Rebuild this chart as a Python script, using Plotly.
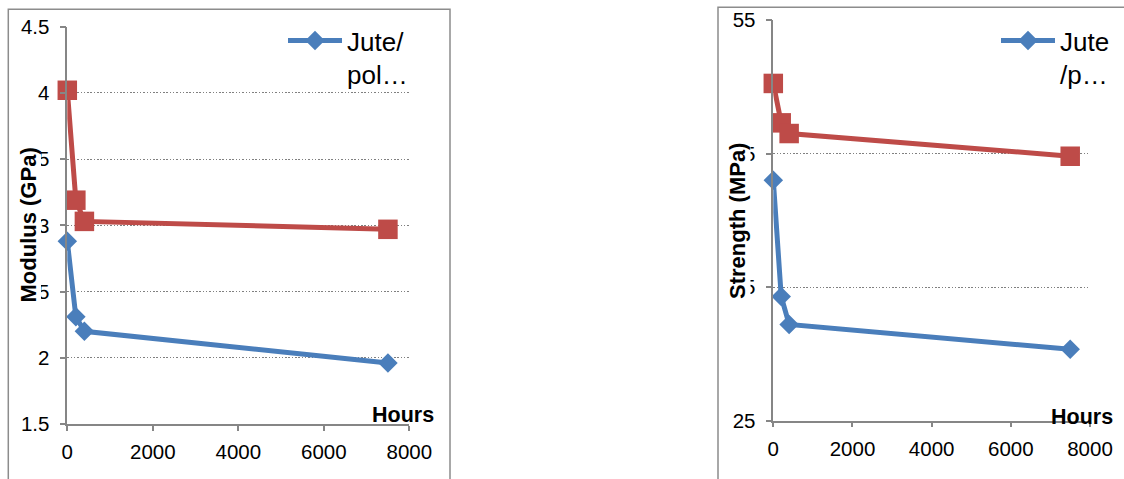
import plotly.graph_objects as go

# ---- data ----
hours = [0, 200, 400, 7500]
modulus_blue = [2.88, 2.31, 2.20, 1.96]
modulus_red = [4.02, 3.19, 3.03, 2.97]
strength_blue = [43.0, 34.3, 32.2, 30.35]
strength_red = [50.25, 47.3, 46.5, 44.8]

x_ticks = [0, 2000, 4000, 6000, 8000]
x_ticktext = ["0", "2000", "4000", "6000", "8000"]
mod_ticks = [1.5, 2, 2.5, 3, 3.5, 4, 4.5]
mod_ticktext = ["1.5", "2", "2.5", "3", "3.5", "4", "4.5"]
str_ticks = [25, 35, 45, 55]
str_ticktext = ["25", "35", "45", "55"]

legend_left = "Jute/<br>pol…"
legend_right = "Jute<br>/p…"

W, H = 1124, 479
BLUE = "#4A7EBB"
RED = "#BE4B48"
AX = "#868686"
FONT = "Liberation Sans, Arial, sans-serif"


def px(x):
    return x / W


def py(y):
    return 1 - y / H


fig = go.Figure()

line_kw = dict(width=5)
fig.add_trace(go.Scatter(x=hours, y=modulus_red, mode="lines+markers", name="red",
                         line=dict(color=RED, **line_kw),
                         marker=dict(symbol="square", size=19.5, color=RED),
                         showlegend=False, cliponaxis=False, xaxis="x", yaxis="y"))
fig.add_trace(go.Scatter(x=hours, y=modulus_blue, mode="lines+markers", name=legend_left,
                         line=dict(color=BLUE, **line_kw),
                         marker=dict(symbol="diamond", size=15, color=BLUE),
                         showlegend=True, legend="legend", cliponaxis=False, xaxis="x", yaxis="y"))
fig.add_trace(go.Scatter(x=hours, y=strength_red, mode="lines+markers", name="red2",
                         line=dict(color=RED, **line_kw),
                         marker=dict(symbol="square", size=19.5, color=RED),
                         showlegend=False, cliponaxis=False, xaxis="x2", yaxis="y2"))
fig.add_trace(go.Scatter(x=hours, y=strength_blue, mode="lines+markers", name=legend_right,
                         line=dict(color=BLUE, **line_kw),
                         marker=dict(symbol="diamond", size=15, color=BLUE),
                         showlegend=True, legend="legend2", cliponaxis=False, xaxis="x2", yaxis="y2"))

xcommon = dict(range=[0, 8000], tickvals=x_ticks, ticktext=x_ticktext, automargin=False,
               showline=True, linecolor=AX, linewidth=1.5, ticks="outside",
               ticklen=5, tickcolor=AX, tickwidth=1.5, showgrid=False, zeroline=False,
               tickfont=dict(family=FONT, size=20.5, color="#000"), ticklabelstandoff=4)
ycommon = dict(showline=True, linecolor=AX, linewidth=1.5, ticks="outside", automargin=False,
               ticklen=6, tickcolor=AX, tickwidth=1.5, showgrid=True,
               gridcolor="#808080", gridwidth=1.3, griddash="1.5px,1.8px", zeroline=False,
               tickfont=dict(family=FONT, size=20.5, color="#000"), ticklabelstandoff=6)

fig.update_layout(
    template="none",
    width=W, height=H, autosize=False,
    margin=dict(l=0, r=0, t=0, b=0, pad=0),
    paper_bgcolor="white", plot_bgcolor="white",
    xaxis=dict(domain=[px(67.3), px(409.3)], anchor="y", **xcommon),
    yaxis=dict(domain=[py(424), py(26.7)], anchor="x", range=[1.5, 4.5],
               tickvals=mod_ticks, ticktext=mod_ticktext, **ycommon),
    xaxis2=dict(domain=[px(773.3), px(1090)], anchor="y2", **xcommon),
    yaxis2=dict(domain=[py(420.7), py(20)], anchor="x2", range=[25, 55],
                tickvals=str_ticks, ticktext=str_ticktext, **ycommon),
    legend=dict(x=px(283), y=py(17), xanchor="left", yanchor="top",
                bgcolor="rgba(0,0,0,0)", font=dict(family=FONT, size=26, color="#000"),
                valign="top", itemwidth=54, tracegroupgap=0),
    legend2=dict(x=px(996), y=py(17), xanchor="left", yanchor="top",
                 bgcolor="rgba(0,0,0,0)", font=dict(family=FONT, size=26, color="#000"),
                 valign="top", itemwidth=54, tracegroupgap=0),
    shapes=[
        dict(type="rect", xref="paper", yref="paper", x0=px(8.3), x1=px(450),
             y0=py(9.3), y1=py(495), line=dict(color="#8c8c8c", width=1.5), layer="below"),
        dict(type="rect", xref="paper", yref="paper", x0=px(718), x1=px(1140),
             y0=py(7.3), y1=py(495), line=dict(color="#8c8c8c", width=1.5), layer="below"),
    ],
    annotations=[
        dict(text="<b>Modulus (GPa)</b>", xref="paper", yref="paper", x=px(27.5), y=py(225),
             xanchor="center", yanchor="middle", textangle=-90, showarrow=False,
             font=dict(family=FONT, size=22, color="#000"), bgcolor="white", borderpad=0),
        dict(text="<b>Strength (MPa)</b>", xref="paper", yref="paper", x=px(737.5), y=py(221.5),
             xanchor="center", yanchor="middle", textangle=-90, showarrow=False,
             font=dict(family=FONT, size=22, color="#000"), bgcolor="white", borderpad=0),
        dict(text="<b>Hours</b>", xref="paper", yref="paper", x=px(402.5), y=py(414.5),
             xanchor="center", yanchor="middle", showarrow=False,
             font=dict(family=FONT, size=21.5, color="#000")),
        dict(text="<b>Hours</b>", xref="paper", yref="paper", x=px(1082), y=py(416.5),
             xanchor="center", yanchor="middle", showarrow=False,
             font=dict(family=FONT, size=21.5, color="#000")),
    ],
)

fig.write_html("out.html", config={"displayModeBar": False},
               post_script="document.body.style.margin='0';document.body.style.overflow='hidden';")
